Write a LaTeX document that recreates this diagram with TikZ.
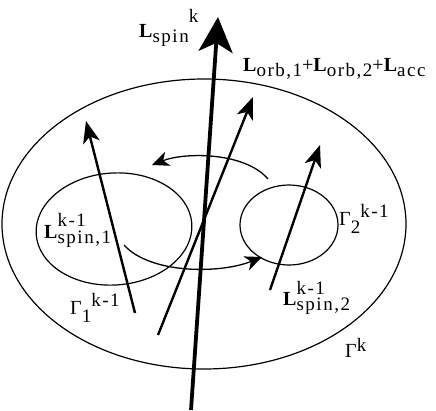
\documentclass[tikz,border=0pt]{standalone}
\usepackage{fontspec}
\setmainfont{Liberation Serif}
\newfontfamily\subfont[LetterSpace=8]{Liberation Serif}
\usetikzlibrary{arrows.meta}
\newcommand{\vL}{\textbf{L}}
\newcommand{\lo}[2][0.25em]{\raisebox{-#1}{\subfont\fontsize{19}{19}\selectfont #2}}
\newcommand{\hi}[2][0.4em]{\raisebox{#1}{\subfont\fontsize{19}{19}\selectfont #2}}
\newcommand{\hilo}[3][0.58em]{\rlap{\hi[#1]{#2}}\lo{#3}}

\begin{document}
\begin{tikzpicture}[x=1pt,y=-1pt,
  lbl/.style={inner sep=0pt,anchor=base west,font=\fontsize{20}{22}\selectfont},
  loop/.style={line width=1.2pt},
  flow/.style={line width=1.3pt,-{Stealth[length=17pt,width=15pt,inset=5pt]}},
  vec/.style={line width=2.4pt,-{Stealth[length=22pt,width=17pt,inset=6pt]}},
  bigvec/.style={line width=3.8pt,-{Stealth[length=35pt,width=34pt,inset=9pt]}}]
  \useasboundingbox (0,0) rectangle (436,410);
  % the three boundaries
  \draw[loop] (204,224) ellipse (202 and 145);
  \draw[loop,rotate around={4:(114,229)}] (114,229) ellipse (78 and 56);
  \draw[loop] (289,225) ellipse (49 and 40);
  % end points of the vectors
  \coordinate (spinA) at (191,410);  \coordinate (spinB) at (218,17);
  \coordinate (orbA) at (158,335);   \coordinate (orbB) at (253,97);
  \coordinate (oneA) at (135,313);   \coordinate (oneB) at (86,121);
  \coordinate (twoA) at (270,290);   \coordinate (twoB) at (320,145);
  \coordinate (upA) at (268,179);    \coordinate (upB) at (152,165);
  \coordinate (dnA) at (124,245);    \coordinate (dnB) at (262,257);
  \draw[flow] (upA) .. controls (245,152) and (185,152) .. (upB);
  \draw[flow] (dnA) .. controls (150,274) and (220,274) .. (dnB);
  \draw[vec] (oneA) -- (oneB);
  \draw[vec] (twoA) -- (twoB);
  \draw[vec] (orbA) -- (orbB);
  \draw[bigvec] (spinA) -- (spinB);
  % labels
  \node[lbl] (spink) at (139,37) {\vL\lo{spin}\hi[0.75em]{k}};
  \node[lbl] (orb) at (243,71) {\vL\lo{orb,1}+\vL\lo{orb,2}+\vL\lo{acc}};
  \node[lbl] (spin1) at (44,238) {\vL\hilo{k-1}{spin,1}};
  \node[lbl] (spin2) at (283,305) {\vL\hilo[0.55em]{k-1}{spin,2}};
  \node[lbl] (gam1) at (70,314) {Γ\lo[0.4em]{1}\hi{k-1}};
  \node[lbl] (gam2) at (339,225) {Γ\lo[0.4em]{2}\hi{k-1}};
  \node[lbl] (gamk) at (345,357) {Γ\hi[0.3em]{k}};
\end{tikzpicture}
\end{document}
